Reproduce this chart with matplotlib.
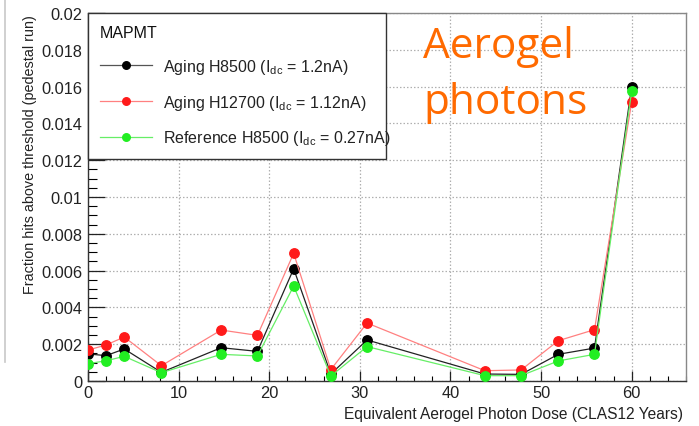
import matplotlib
matplotlib.use("Agg")
import matplotlib.pyplot as plt
from matplotlib.ticker import MultipleLocator, FuncFormatter
from matplotlib.lines import Line2D

# ---- data ----
dose = [0, 2, 4, 8.1, 14.7, 18.7, 22.7, 26.8, 30.8, 43.8, 47.8, 51.9, 55.9, 60]
aging_h8500 = [0.00147, 0.00138, 0.00174, 0.00047, 0.00181, 0.00161, 0.0061, 0.00038,
               0.00223, 0.00038, 0.00036, 0.00145, 0.00179, 0.0160]
aging_h12700 = [0.00168, 0.00196, 0.00239, 0.00083, 0.00277, 0.00248, 0.00694, 0.00062,
                0.00315, 0.00056, 0.00060, 0.00219, 0.00279, 0.01515]
ref_h8500 = [0.00094, 0.00110, 0.00134, 0.00045, 0.00145, 0.00136, 0.00516, 0.00027,
             0.00187, 0.00029, 0.00029, 0.00109, 0.00145, 0.01574]

labels = [r"Aging H8500 (I$_{\rm dc}$ = 1.2nA)",
          r"Aging H12700 (I$_{\rm dc}$ = 1.12nA)",
          r"Reference H8500 (I$_{\rm dc}$ = 0.27nA)"]
legend_title = "MAPMT"
xlabel = "Equivalent Aerogel Photon Dose (CLAS12 Years)"
ylabel = "Fraction hits above threshold (pedestal run)"
overlay = ["Aerogel", "photons"]

plt.rcParams['font.family'] = ['Liberation Sans', 'DejaVu Sans']
plt.rcParams['mathtext.fontset'] = 'custom'
plt.rcParams['mathtext.rm'] = 'Liberation Sans'
plt.rcParams['mathtext.it'] = 'Liberation Sans:italic'

W, H = 699, 427
fig = plt.figure(figsize=(W / 100, H / 100), dpi=100)
ax = fig.add_axes([88 / W, (H - 382) / H, (686 - 88) / W, (382 - 14) / H])

series = [
    (aging_h8500, '#000000', '#222222'),
    (aging_h12700, '#ff1a1a', '#ff8080'),
    (ref_h8500, '#22ee22', '#66ee66'),
]
handles = []
for (vals, mc, lc), lab in zip(series, labels):
    h, = ax.plot(dose, vals, color=lc, lw=0.9, marker='o', ms=6.8,
                 markerfacecolor=mc, markeredgecolor=mc, label=lab, zorder=3)
    handles.append(h)

ax.set_xlim(0, 66)
ax.set_ylim(0, 0.02)
ax.xaxis.set_major_locator(MultipleLocator(10))
ax.xaxis.set_minor_locator(MultipleLocator(2))
ax.yaxis.set_major_locator(MultipleLocator(0.002))
ax.yaxis.set_minor_locator(MultipleLocator(0.0005))
ax.yaxis.set_major_formatter(FuncFormatter(lambda v, p: "0" if abs(v) < 1e-12 else f"{v:g}"))
ax.xaxis.set_major_formatter(FuncFormatter(lambda v, p: f"{v:g}"))

ax.tick_params(axis='x', which='major', direction='in', length=7.5, width=0.9,
               labelsize=11.8, pad=3, colors='#222222', top=False)
ax.tick_params(axis='x', which='minor', direction='in', length=3.8, width=0.8, top=False)
ax.tick_params(axis='y', which='major', direction='in', length=12.5, width=0.9,
               labelsize=11.8, pad=4, colors='#222222', right=False)
ax.tick_params(axis='y', which='minor', direction='in', length=6.5, width=0.8, right=False)

ax.grid(True, which='major', color='#b0b0b0', linestyle=(0, (1.2, 1.6)), lw=0.9, zorder=0)
for s in ax.spines.values():
    s.set_color('#333333')
    s.set_linewidth(1.0)
for side in ['top', 'right']:
    ax.spines[side].set_color('#888888')

ax.set_xlabel(xlabel, fontsize=11.2, color='#222222', loc='right')
ax.xaxis.set_label_coords((683 - 88) / 598, (382 - 407) / 368)
ax.set_ylabel(ylabel, fontsize=10.4, color='#222222', loc='top')
ax.yaxis.set_label_coords((37 - 88) / 598, 0.997)

leg = ax.legend(handles=handles, title=legend_title, loc='upper left',
                bbox_to_anchor=(0, 0, (386 - 88) / 598, 1), mode='expand',
                borderaxespad=0, fontsize=11.5,
                title_fontsize=11.5, alignment='left', frameon=True, fancybox=False,
                handlelength=3.25, handletextpad=0.7, labelspacing=1.05,
                borderpad=0.75, markerscale=0.8)
leg.get_frame().set_edgecolor('#333333')
leg.get_frame().set_linewidth(1.0)
leg.get_frame().set_alpha(1)
for t in leg.get_texts():
    t.set_color('#222222')
leg.get_title().set_color('#111111')
leg.get_lines()[0].set_color('#555555')
leg.set_zorder(5)

fig.text(423 / W, 1 - 58 / H, overlay[0], fontsize=30.5, color='#ff6a00',
         family='Open Sans', va='baseline', ha='left')
fig.text(423 / W, 1 - 114 / H, overlay[1], fontsize=30.5, color='#ff6a00',
         family='Open Sans', va='baseline', ha='left')

fig.add_artist(Line2D([5 / W, 5 / W], [1, 1 - 363 / H], color='#c8c8c8', lw=1.2,
                      transform=fig.transFigure))

fig.savefig("out.png", dpi=100)
